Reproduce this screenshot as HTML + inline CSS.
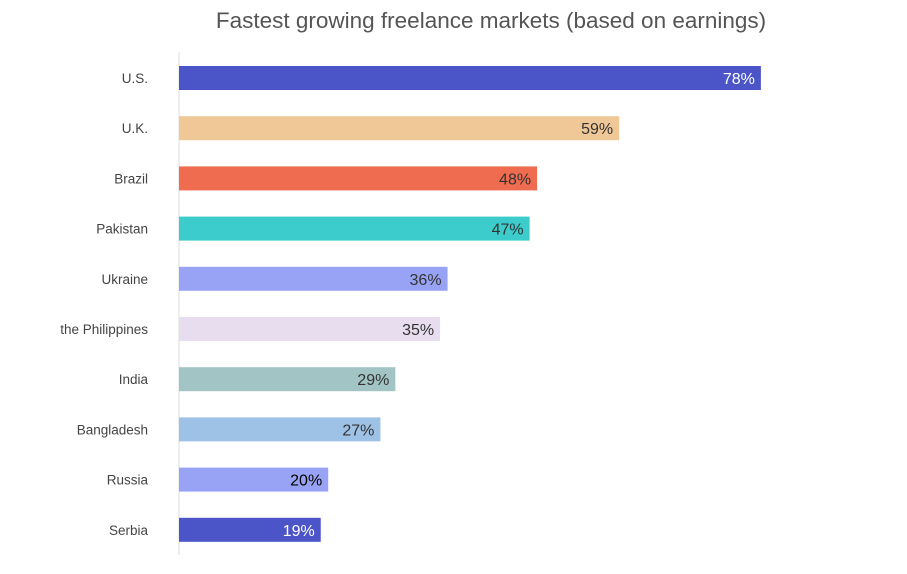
<!DOCTYPE html>
<html><head><meta charset="utf-8"><style>
body{margin:0;background:#fff;width:907px;height:569px;overflow:hidden;font-family:"Liberation Sans",Arial,sans-serif}
</style></head><body>
<svg id="chart" width="907" height="569" xmlns="http://www.w3.org/2000/svg">
<text x="491" y="28" text-anchor="middle" font-size="22.5" fill="#555">Fastest growing freelance markets (based on earnings)</text>
<line x1="179" y1="52" x2="179" y2="555" stroke="#ddd" stroke-width="1"/>
<g id="bars"></g>
</svg>
<script>
const categories=["U.S.","U.K.","Brazil","Pakistan","Ukraine","the Philippines","India","Bangladesh","Russia","Serbia"];
const values=[78,59,48,47,36,35,29,27,20,19];
const colors=["#4b55c8","#f0c797","#ef6c50","#3ccccc","#99a3f5","#e8ddee","#a3c4c4","#9ec2e6","#99a3f5","#4b55c8"];
const labelColors=["#fff","#333","#333","#333","#333","#333","#333","#333","#000","#fff"];
const ns="http://www.w3.org/2000/svg";
const x0=179, pxPer=7.46;
const xScale=v=>x0+v*pxPer;
const yCenter=i=>78+i*50.2;
const g=document.getElementById('bars');
categories.forEach((c,i)=>{
  const yc=yCenter(i);
  const r=document.createElementNS(ns,'rect');
  
  
  r.setAttribute('x',x0);r.setAttribute('y',yc-12);
  r.setAttribute('width',xScale(values[i])-x0);r.setAttribute('height',24);
  r.setAttribute('fill',colors[i]);g.appendChild(r);
  const t=document.createElementNS(ns,'text');
  
  
  t.setAttribute('x',148);t.setAttribute('y',yc+5);t.setAttribute('text-anchor','end');
  t.setAttribute('font-size','13.5');t.setAttribute('fill','#444');t.textContent=c;g.appendChild(t);
  const v=document.createElementNS(ns,'text');
  
  
  v.setAttribute('x',xScale(values[i])-6);v.setAttribute('y',yc+6);v.setAttribute('text-anchor','end');
  v.setAttribute('font-size','16');v.setAttribute('fill',labelColors[i]);v.textContent=values[i]+'%';g.appendChild(v);
});
</script>
</body></html>
